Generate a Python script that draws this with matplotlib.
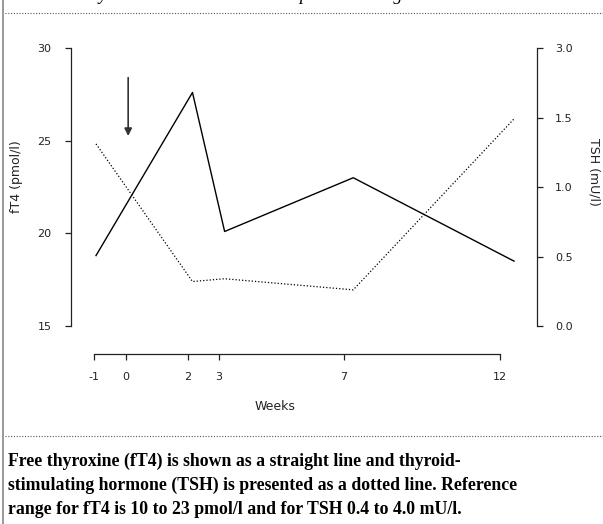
import matplotlib
matplotlib.use('Agg')
import matplotlib.pyplot as plt
from matplotlib.lines import Line2D

# values
weeks = [-1, 2, 3, 7, 12]
ft4 = [18.8, 27.6, 20.1, 23.0, 18.5]        # pmol/l, solid line
tsh = [1.31, 0.32, 0.34, 0.26, 1.49]        # mU/l, dotted line
week_ticks = [-1, 0, 2, 3, 7, 12]
ft4_ticks = [15, 20, 25, 30]
tsh_ticks = [0.0, 0.5, 1.0, 1.5, 2.0]
tsh_labels = ['0.0', '0.5', '1.0', '1.5', '3.0']   # top of axis is broken in the original
arrow_week = 0

caption = ["Free thyroxine (fT4) is shown as a straight line and thyroid-",
           "stimulating hormone (TSH) is presented as a dotted line. Reference",
           "range for fT4 is 10 to 23 pmol/l and for TSH 0.4 to 4.0 mU/l."]
title = "Thyroid hormone levels in the patient during treatment"

W, H = 603, 524
def fx(px):
    return px / W
def fy(py):
    return 1 - py / H

fig = plt.figure(figsize=(W / 100, H / 100), dpi=100)
sans = 'DejaVu Sans'
dark = '#222222'

# main plotting area: left spine at x=71, right spine at x=537, y from 48 to 326
ax = fig.add_axes([fx(71), fy(326), fx(537) - fx(71), fy(48) - fy(326)])
ax.patch.set_alpha(0)
ax.plot(weeks, ft4, color='black', lw=1.0)
ax.set_xlim(-1.778, 12.715)
ax.set_ylim(15, 30)
ax.set_yticks(ft4_ticks)
ax.set_yticklabels([str(t) for t in ft4_ticks], fontsize=8, family=sans, color=dark)
ax.tick_params(axis='y', direction='out', length=4, width=0.9, pad=10, color=dark)
ax.set_xticks([])
for s in ['top', 'bottom', 'right']:
    ax.spines[s].set_visible(False)
ax.spines['left'].set_color(dark)
ax.spines['left'].set_linewidth(0.9)

ax.annotate('', xy=(arrow_week, 25.25), xytext=(arrow_week, 28.4),
            arrowprops=dict(arrowstyle='-|>', color='#333333', lw=1.2,
                            mutation_scale=11, shrinkA=0, shrinkB=0))

ax2 = ax.twinx()
ax2.plot(weeks, tsh, color='black', lw=0.9, linestyle=(0, (1, 1.6)))
ax2.set_ylim(0, 2.0)
ax2.set_yticks(tsh_ticks)
ax2.set_yticklabels(tsh_labels, fontsize=8, family=sans, color=dark)
ax2.tick_params(axis='y', direction='out', length=4, width=0.9, pad=9, color=dark)
for s in ['top', 'bottom', 'left']:
    ax2.spines[s].set_visible(False)
ax2.spines['right'].set_color(dark)
ax2.spines['right'].set_linewidth(0.9)

# detached week axis below the plot
axx = fig.add_axes([fx(94.3), fy(354), fx(500) - fx(94.3), 0.001])
axx.patch.set_alpha(0)
axx.set_xlim(-1, 12)
axx.set_yticks([])
axx.set_xticks(week_ticks)
axx.set_xticklabels([str(t) for t in week_ticks], fontsize=8, family=sans, color=dark)
axx.tick_params(axis='x', direction='out', length=4, width=0.9, pad=9, color=dark)
for s in ['top', 'left', 'right']:
    axx.spines[s].set_visible(False)
axx.spines['bottom'].set_color(dark)
axx.spines['bottom'].set_linewidth(0.9)

fig.text(fx(275), fy(407), 'Weeks', ha='center', va='center', fontsize=9, family=sans, color=dark)
fig.text(fx(17), fy(177), 'fT4 (pmol/l)', ha='center', va='center', rotation=90,
         fontsize=9, family=sans, color=dark)
fig.text(fx(594), fy(172), 'TSH (mU/l)', ha='center', va='center', rotation=270,
         fontsize=9, family=sans, color=dark)

# frame pieces of the page
fig.add_artist(Line2D([fx(3), fx(3)], [0, 1], transform=fig.transFigure, color='#888888', lw=1.2))
for yy in [12.7, 436]:
    fig.add_artist(Line2D([fx(5), 1], [fy(yy), fy(yy)], transform=fig.transFigure,
                          color='#555555', lw=0.8, linestyle=(0, (1, 1.5))))

# title, cut off at the top of the image as in the original
fig.text(fx(80), fy(0.5), title, ha='left', va='baseline', style='italic',
         fontsize=13, family='Liberation Serif', color='black')

for i, line in enumerate(caption):
    fig.text(fx(8), fy(461.7 + 24 * i), line, ha='left', va='center', fontsize=12.8,
             fontweight='bold', family='Liberation Serif', color='black')

fig.savefig('out.png', dpi=100)
